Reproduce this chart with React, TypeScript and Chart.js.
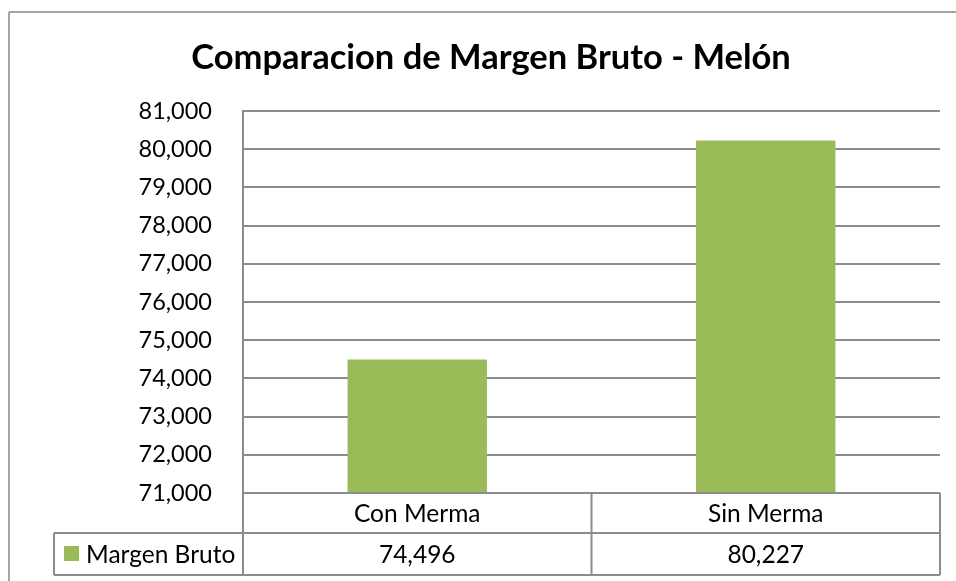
import React, { useEffect, useRef } from "react";
import { Chart, registerables } from "chart.js";

Chart.register(...registerables);

const title = "Comparacion de Margen Bruto - Melón";
const categories = ["Con Merma", "Sin Merma"];
const seriesName = "Margen Bruto";
const seriesValues = [74496, 80227];
const yMin = 71000;
const yMax = 81000;
const yStep = 1000;

const FONT = "Lato";
const GRID = "#8c8c8c";
const BAR = "#9BBB59";

const fmt = (v: number) => v.toLocaleString("en-US");

const tablePlugin = {
  id: "tablePlugin",
  afterDraw(chart: any) {
    const ctx = chart.ctx as CanvasRenderingContext2D;
    const area = chart.chartArea;
    const xs = chart.scales.x;
    const n = categories.length;
    const colW = (area.right - area.left) / n;
    const row1Top = area.bottom;
    const row2Top = area.bottom + 40;
    const row2Bot = area.bottom + 82;
    const legendLeft = 54;
    ctx.save();
    // outer border
    ctx.strokeStyle = "#898989";
    ctx.lineWidth = 1.5;
    ctx.beginPath();
    ctx.moveTo(9, 12);
    ctx.lineTo(chart.width, 12);
    ctx.moveTo(9, 12);
    ctx.lineTo(9, chart.height);
    ctx.stroke();

    ctx.strokeStyle = GRID;
    ctx.lineWidth = 2;
    ctx.beginPath();
    // axis line continues down
    ctx.moveTo(area.left, area.top);
    ctx.lineTo(area.left, row2Bot);
    // horizontal lines
    ctx.moveTo(area.left, row1Top);
    ctx.lineTo(area.right, row1Top);
    ctx.moveTo(legendLeft, row2Top);
    ctx.lineTo(area.right, row2Top);
    ctx.moveTo(legendLeft, row2Bot);
    ctx.lineTo(area.right, row2Bot);
    // legend left border
    ctx.moveTo(legendLeft, row2Top);
    ctx.lineTo(legendLeft, row2Bot);
    // column dividers
    for (let i = 1; i <= n; i++) {
      const x = area.left + colW * i;
      ctx.moveTo(x, row1Top);
      ctx.lineTo(x, row2Bot);
    }
    ctx.stroke();

    // texts
    ctx.fillStyle = "#000";
    ctx.font = `24.5px ${FONT}`;
    ctx.textAlign = "center";
    ctx.textBaseline = "middle";
    categories.forEach((c, i) => {
      const cx = xs.getPixelForValue(i);
      ctx.fillText(c, cx, (row1Top + row2Top) / 2 + 1);
      ctx.fillText(fmt(seriesValues[i]), cx, (row2Top + row2Bot) / 2 + 1);
    });
    // legend
    ctx.fillStyle = BAR;
    ctx.fillRect(64, 546, 15, 15);
    ctx.fillStyle = "#000";
    ctx.textAlign = "left";
    ctx.fillText(seriesName, 86, (row2Top + row2Bot) / 2 + 1);

    // title
    ctx.font = `bold 34.5px ${FONT}`;
    ctx.textAlign = "center";
    ctx.fillText(title, 491, 58);
    ctx.restore();
  },
};

export default function App() {
  const ref = useRef<HTMLCanvasElement | null>(null);
  useEffect(() => {
    if (!ref.current) return;
    const chart = new Chart(ref.current, {
      type: "bar",
      data: {
        labels: categories,
        datasets: [
          {
            label: seriesName,
            data: seriesValues,
            backgroundColor: BAR,
            barPercentage: 0.4,
            categoryPercentage: 1,
          },
        ],
      },
      options: {
        responsive: false,
        animation: false,
        layout: { padding: { left: 10, top: 111, right: 16, bottom: 88 } },
        plugins: {
          legend: { display: false },
          tooltip: { enabled: false },
          title: { display: false },
        },
        scales: {
          x: { display: false },
          y: {
            min: yMin,
            max: yMax,
            afterFit: (s: any) => {
              s.width = 233;
            },
            ticks: {
              stepSize: yStep,
              padding: 31,
              color: "#000",
              font: { family: FONT, size: 23.5 },
              callback: (v: any) => fmt(Number(v)),
            },
            grid: { color: GRID, lineWidth: 2, drawTicks: false },
            border: { display: true, color: GRID, width: 2 },
          },
        },
      },
      plugins: [tablePlugin],
    });
    return () => chart.destroy();
  }, []);
  return (
    <div style={{ position: "absolute", left: 0, top: 0, width: 956, height: 581, background: "#fff" }}>
      <canvas ref={ref} width={956} height={581} />
    </div>
  );
}
